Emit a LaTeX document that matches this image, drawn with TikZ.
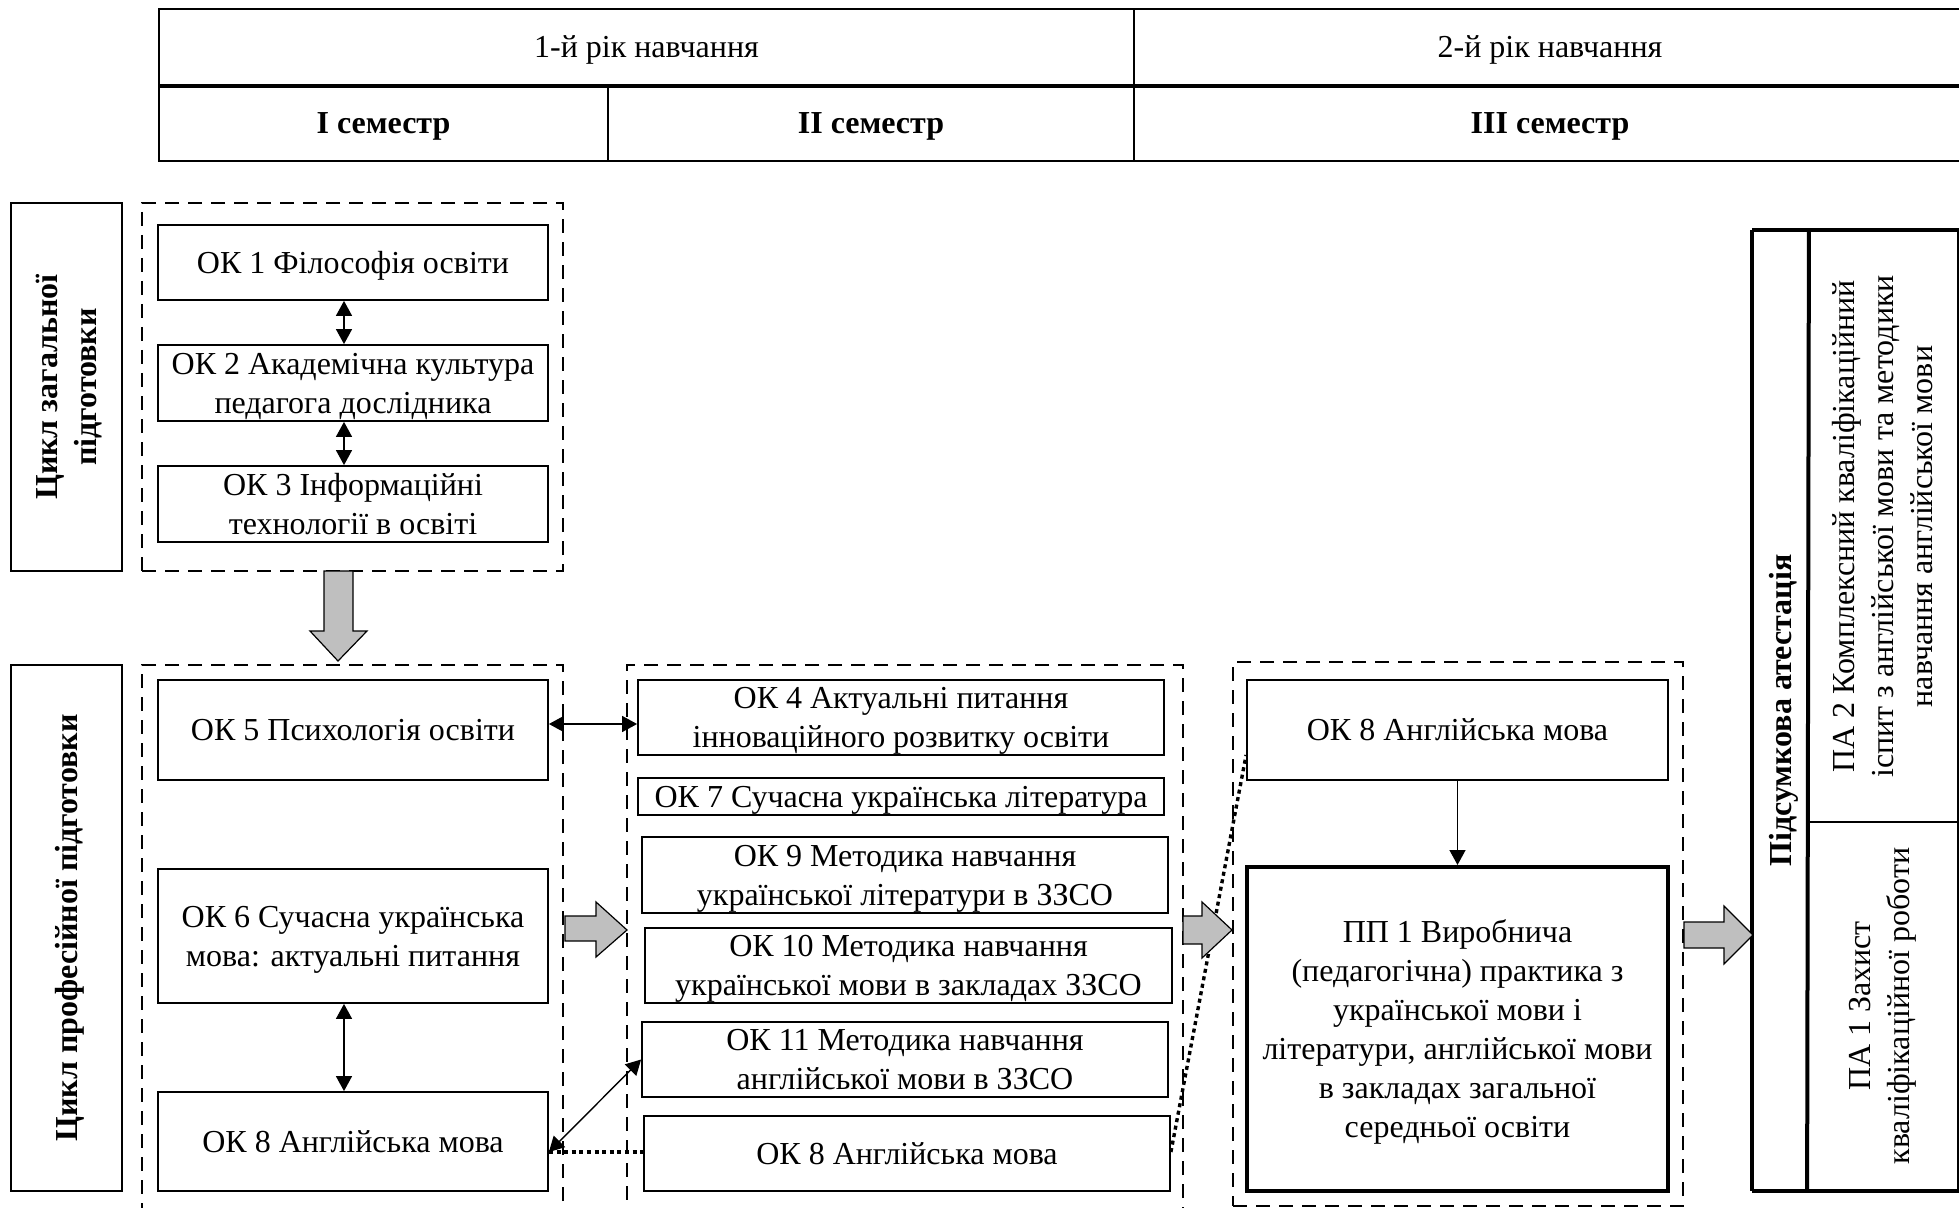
\documentclass[tikz,border=0pt]{standalone}
\usepackage{fontspec}
\setmainfont{Liberation Serif}
\usetikzlibrary{arrows.meta,calc}
\tikzset{
  okbox/.style={draw, line width=0.9pt, inner sep=1pt, align=center, text depth=0pt, font=\fontsize{16}{19.5}\selectfont},
  dashbox/.style={dash pattern=on 7pt off 4.5pt},
  dbl/.style={line width=0.7pt, {Triangle[length=7.5pt,width=8pt]}-{Triangle[length=7.5pt,width=8pt]}},
  sgl/.style={line width=0.7pt, -{Triangle[length=7.5pt,width=8pt]}},
  dots/.style={line width=1.7pt, dash pattern=on 2pt off 1.8pt},
  blk/.style={draw, line width=0.6pt, fill=black!25},
  txt/.style={font=\fontsize{16}{19.5}\selectfont, align=center, inner sep=0pt},
  btxt/.style={font=\bfseries\fontsize{16}{19.5}\selectfont, align=center, inner sep=0pt, text depth=0pt},
}
\newcommand\mkbox[7][]{\node[okbox,minimum width={(#5-#3)*0.5pt},minimum height={(#6-#4)*0.5pt},#1] (#2) at ({(#3+#5)/2},{(#4+#6)/2}) {#7};}
\begin{document}
\begin{tikzpicture}[x=0.5pt,y=-0.5pt]
\useasboundingbox (0,0) rectangle (1959,1208);

% header table
\mkbox{yr1}{159}{9}{1134}{85}{1-й рік навчання}
\mkbox{yr2}{1134}{9}{1966}{85}{2-й рік навчання}
\mkbox[font=\bfseries\fontsize{16}{19.5}\selectfont]{sem1}{159}{85}{608}{161}{I семестр}
\mkbox[font=\bfseries\fontsize{16}{19.5}\selectfont]{sem2}{608}{85}{1134}{161}{II семестр}
\mkbox[font=\bfseries\fontsize{16}{19.5}\selectfont]{sem3}{1134}{85}{1966}{161}{III семестр}
\draw[line width=1.7pt] (yr1.south west) -- (yr2.south east);

% cycle labels
\mkbox{gen}{11}{203}{122}{571}{}
\node[btxt, rotate=90] (gent) at (gen.center) {Цикл загальної\\підготовки};
\mkbox{prof}{11}{665}{122}{1191}{}
\node[btxt, rotate=90] (proft) at (prof.center) {Цикл професійної підготовки};

% dashed groups
\mkbox[dashbox]{dgen}{142}{203}{563}{571}{}
\mkbox[dashbox]{dc1}{142}{665}{563}{1240}{}
\mkbox[dashbox]{dc2}{627}{665}{1183}{1240}{}
\mkbox[dashbox]{dc3}{1233}{662}{1683}{1206}{}

% column 1
\mkbox{ok1}{158}{225}{548}{300}{ОК 1 Філософія освіти}
\mkbox{ok2}{158}{345}{548}{421}{ОК 2 Академічна культура\\педагога дослідника}
\mkbox{ok3}{158}{466}{548}{542}{ОК 3 Інформаційні\\технології в освіті}
\mkbox{ok5}{158}{680}{548}{780}{ОК 5 Психологія освіти}
\mkbox{ok6}{158}{869}{548}{1003}{ОК 6 Сучасна українська\\мова: актуальні питання}
\mkbox{ok8a}{158}{1092}{548}{1191}{ОК 8 Англійська мова}

% column 2
\mkbox{ok4}{638}{680}{1164}{755}{ОК 4 Актуальні питання\\інноваційного розвитку освіти}
\mkbox{ok7}{638}{778}{1164}{815}{ОК 7 Сучасна українська література}
\mkbox{ok9}{642}{837}{1168}{913}{ОК 9 Методика навчання\\української літератури в ЗЗСО}
\mkbox{ok10}{645}{928}{1172}{1003}{ОК 10 Методика навчання\\української мови в закладах ЗЗСО}
\mkbox{ok11}{642}{1022}{1168}{1097}{ОК 11 Методика навчання\\англійської мови в ЗЗСО}
\mkbox{ok8b}{644}{1116}{1170}{1191}{ОК 8 Англійська мова}

% column 3
\mkbox{ok8c}{1247}{680}{1668}{780}{ОК 8 Англійська мова}
\mkbox[line width=2pt]{pp1}{1247}{867}{1668}{1191}{ПП 1 Виробнича\\(педагогічна) практика з\\української мови і\\літератури, англійської мови\\в закладах загальної\\середньої освіти}

% final attestation
\mkbox{fa}{1753}{231}{1808}{1190}{}
\mkbox{pa2}{1808}{231}{1958}{822}{}
\mkbox{pa1}{1808}{822}{1958}{1190}{}
\draw[line width=2pt] (fa.north west) -- (fa.south west);
\draw[line width=2pt] (fa.north east) -- (pa1.south west);
\draw[line width=1.6pt] (fa.north west) -- (pa2.north east) -- (pa1.south east) -- (fa.south west);
\node[btxt, rotate=90] (fat) at (fa.center) {Підсумкова атестація};
\node[txt, rotate=90] (pa2t) at (pa2.center) {ПА 2 Комплексний кваліфікаційний\\іспит з англійської мови та методики\\навчання англійської мови};
\node[txt, rotate=90] (pa1t) at (pa1.center) {ПА 1 Захист\\кваліфікаційної роботи};

% thin connectors
\draw[dbl] ([xshift=-4.5pt]ok1.south) -- ([xshift=-4.5pt]ok2.north);
\draw[dbl] ([xshift=-4.5pt]ok2.south) -- ([xshift=-4.5pt]ok3.north);
\draw[dbl] ([xshift=-4.5pt]ok6.south) -- ([xshift=-4.5pt]ok8a.north);
\coordinate (h1) at (0,724);
\draw[dbl] (ok5.east |- h1) -- (ok4.west |- h1);
\coordinate (h2) at (0,1152);
\coordinate (h3) at (0,755);
\draw[dbl] (ok8a.east |- h2) -- (ok11.west);
\draw[dots] (ok8a.east |- h2) -- (ok8b.west |- h2);
\draw[dots] (ok8b.east |- h2) -- (ok8c.west |- h3);
\draw[sgl] (ok8c.south) -- (pp1.north);

% block arrows
\draw[blk] (324,571) -- (353,571) -- (353,631) -- (367,631) -- (338,661) -- (310,631) -- (324,631) -- cycle;
\draw[blk] (565,916) -- (596,916) -- (596,902) -- (627,930) -- (596,957) -- (596,941) -- (565,941) -- cycle;
\draw[blk] (1183,916) -- (1202,916) -- (1202,902) -- (1232,930) -- (1202,958) -- (1202,944) -- (1183,944) -- cycle;
\draw[blk] (1684,922) -- (1724,922) -- (1724,906) -- (1753,935) -- (1724,964) -- (1724,948) -- (1684,948) -- cycle;
\end{tikzpicture}
\end{document}
